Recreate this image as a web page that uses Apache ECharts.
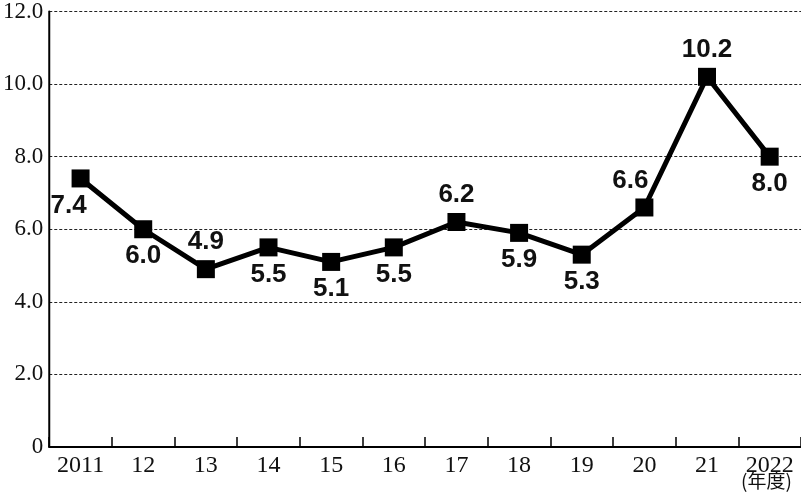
<!DOCTYPE html>
<html><head><meta charset="utf-8">
<script src="https://cdn.jsdelivr.net/npm/echarts@6/dist/echarts.min.js"></script>
<style>html,body{margin:0;padding:0;background:#fff}#c{width:801px;height:493px}</style>
</head><body><div id="c"></div>
<script>
const categories = ['2011','12','13','14','15','16','17','18','19','20','21','2022'];
const values = [7.4, 6.0, 4.9, 5.5, 5.1, 5.5, 6.2, 5.9, 5.3, 6.6, 10.2, 8.0];
const labelPos = ['bottom','bottom','top','bottom','bottom','bottom','top','bottom','bottom','top','top','bottom'];
const yTicks = [0, 2, 4, 6, 8, 10, 12];
const unitLabel = '(年度)';

const chart = echarts.init(document.getElementById('c'), null, {renderer:'canvas'});
const serif = '"Liberation Serif","DejaVu Serif",serif';
const sans = '"Liberation Sans","DejaVu Sans",sans-serif';
const data = values.map((v,i)=>{
  const d = {value:v, label:{position:labelPos[i]}};
  if (i===0) d.label = {position:'bottom', offset:[-12,0]};
  if (i===9) d.label = {position:'top', offset:[-14,0]};
  return d;
});
chart.setOption({
  animation:false,
  grid:{left:49, right:-2, top:7, bottom:46, containLabel:false},
  xAxis:{
    type:'category', data:categories, boundaryGap:true,
    axisLine:{show:true, lineStyle:{color:'#000', width:2}},
    axisTick:{show:true, interval:0, inside:true, length:10, lineStyle:{color:'#000', width:1.5}},
    axisLabel:{color:'#111', fontFamily:serif, fontSize:24, margin:7, interval:0},
    splitLine:{show:false}
  },
  yAxis:{
    type:'value', min:0, max:12, interval:2,
    axisLine:{show:true, lineStyle:{color:'#000', width:2}},
    axisTick:{show:false},
    axisLabel:{color:'#111', fontFamily:serif, fontSize:23, margin:6,
      formatter:v=> v===0 ? '0' : v.toFixed(1)},
    splitLine:{show:true, lineStyle:{color:'#222', type:[3,2], width:1}}
  },
  series:[{
    type:'line', data:data, z:3,
    symbol:'rect', symbolSize:18,
    lineStyle:{color:'#000', width:5},
    itemStyle:{color:'#000'},
    label:{show:true, fontFamily:sans, fontWeight:'bold', fontSize:26, color:'#111', distance:5,
      formatter:p=>p.value.toFixed(1)}
  }],
  graphic:[{type:'text', left:741, top:471,
    style:{text:unitLabel, font:'19px "Noto Sans CJK JP", serif', fill:'#111'}}]
});
</script></body></html>
